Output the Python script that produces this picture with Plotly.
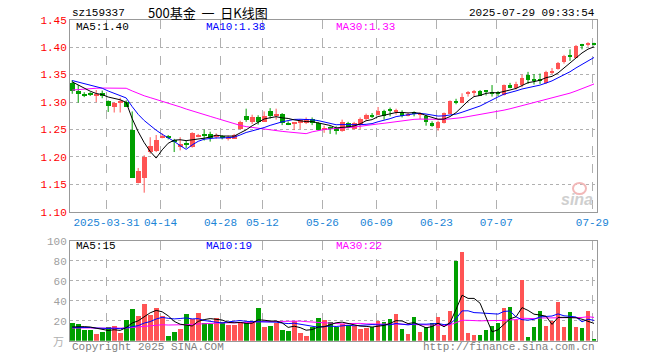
import plotly.graph_objects as go
import pandas as pd

# ---------------- data ----------------
dates = [
    "2025-03-21", "2025-03-24", "2025-03-25", "2025-03-26", "2025-03-27", "2025-03-28",
    "2025-03-31", "2025-04-01", "2025-04-02", "2025-04-03", "2025-04-07", "2025-04-08",
    "2025-04-09", "2025-04-10", "2025-04-11", "2025-04-14", "2025-04-15", "2025-04-16",
    "2025-04-17", "2025-04-18", "2025-04-21", "2025-04-22", "2025-04-23", "2025-04-24",
    "2025-04-25", "2025-04-28", "2025-04-29", "2025-04-30", "2025-05-06", "2025-05-07",
    "2025-05-08", "2025-05-09", "2025-05-12", "2025-05-13", "2025-05-14", "2025-05-15",
    "2025-05-16", "2025-05-19", "2025-05-20", "2025-05-21", "2025-05-22", "2025-05-23",
    "2025-05-26", "2025-05-27", "2025-05-28", "2025-05-29", "2025-05-30", "2025-06-03",
    "2025-06-04", "2025-06-05", "2025-06-06", "2025-06-09", "2025-06-10", "2025-06-11",
    "2025-06-12", "2025-06-13", "2025-06-16", "2025-06-17", "2025-06-18", "2025-06-19",
    "2025-06-20", "2025-06-23", "2025-06-24", "2025-06-25", "2025-06-26", "2025-06-27",
    "2025-06-30", "2025-07-01", "2025-07-02", "2025-07-03", "2025-07-04", "2025-07-07",
    "2025-07-08", "2025-07-09", "2025-07-10", "2025-07-11", "2025-07-14", "2025-07-15",
    "2025-07-16", "2025-07-17", "2025-07-18", "2025-07-21", "2025-07-22", "2025-07-23",
    "2025-07-24", "2025-07-25", "2025-07-28", "2025-07-29",
]

opens = [
    1.336, 1.320, 1.313, 1.315, 1.313, 1.317, 1.302, 1.292, 1.299, 1.300,
    1.250, 1.154, 1.163, 1.209, 1.211, 1.236, 1.239, 1.232, 1.219, 1.225,
    1.218, 1.238, 1.241, 1.242, 1.238, 1.238, 1.235, 1.234, 1.252, 1.275,
    1.264, 1.273, 1.265, 1.285, 1.276, 1.279, 1.261, 1.261, 1.263, 1.262,
    1.270, 1.262, 1.251, 1.253, 1.254, 1.247, 1.262, 1.252, 1.259, 1.270,
    1.276, 1.277, 1.284, 1.286, 1.284, 1.283, 1.275, 1.280, 1.278, 1.276,
    1.263, 1.254, 1.262, 1.279, 1.301, 1.299, 1.316, 1.318, 1.320, 1.320,
    1.318, 1.317, 1.313, 1.332, 1.327, 1.331, 1.350, 1.342, 1.342, 1.336,
    1.355, 1.361, 1.373, 1.385, 1.380, 1.405, 1.405, 1.407,
]
highs = [
    1.340, 1.331, 1.318, 1.318, 1.322, 1.321, 1.303, 1.300, 1.308, 1.303,
    1.283, 1.180, 1.203, 1.236, 1.240, 1.243, 1.240, 1.233, 1.236, 1.230,
    1.245, 1.242, 1.250, 1.246, 1.243, 1.240, 1.239, 1.242, 1.266, 1.288,
    1.277, 1.276, 1.283, 1.289, 1.288, 1.280, 1.265, 1.263, 1.269, 1.272,
    1.272, 1.264, 1.257, 1.256, 1.256, 1.268, 1.264, 1.264, 1.272, 1.279,
    1.280, 1.291, 1.286, 1.290, 1.288, 1.285, 1.281, 1.283, 1.281, 1.277,
    1.265, 1.266, 1.281, 1.303, 1.306, 1.316, 1.320, 1.322, 1.322, 1.321,
    1.331, 1.320, 1.332, 1.335, 1.337, 1.350, 1.355, 1.351, 1.352, 1.357,
    1.362, 1.373, 1.386, 1.396, 1.404, 1.406, 1.409, 1.408,
]
lows = [
    1.315, 1.299, 1.309, 1.311, 1.300, 1.307, 1.282, 1.281, 1.281, 1.291,
    1.162, 1.152, 1.135, 1.206, 1.209, 1.234, 1.232, 1.209, 1.212, 1.216,
    1.217, 1.236, 1.230, 1.228, 1.233, 1.232, 1.230, 1.233, 1.250, 1.264,
    1.260, 1.259, 1.264, 1.270, 1.268, 1.258, 1.258, 1.249, 1.251, 1.260,
    1.258, 1.248, 1.244, 1.242, 1.241, 1.246, 1.252, 1.250, 1.251, 1.266,
    1.271, 1.276, 1.268, 1.274, 1.277, 1.272, 1.274, 1.274, 1.269, 1.257,
    1.255, 1.248, 1.261, 1.279, 1.296, 1.298, 1.310, 1.310, 1.311, 1.312,
    1.310, 1.311, 1.312, 1.325, 1.323, 1.327, 1.333, 1.332, 1.333, 1.333,
    1.351, 1.359, 1.370, 1.375, 1.380, 1.396, 1.401, 1.403,
]
closes = [
    1.321, 1.316, 1.312, 1.314, 1.315, 1.311, 1.294, 1.299, 1.302, 1.291,
    1.163, 1.175, 1.200, 1.221, 1.231, 1.238, 1.235, 1.228, 1.225, 1.223,
    1.244, 1.240, 1.239, 1.236, 1.240, 1.236, 1.237, 1.241, 1.265, 1.268,
    1.273, 1.265, 1.275, 1.276, 1.278, 1.262, 1.260, 1.262, 1.268, 1.270,
    1.262, 1.250, 1.253, 1.252, 1.248, 1.265, 1.256, 1.262, 1.270, 1.277,
    1.275, 1.284, 1.276, 1.285, 1.285, 1.276, 1.279, 1.279, 1.279, 1.264,
    1.257, 1.265, 1.280, 1.302, 1.300, 1.310, 1.318, 1.320, 1.312, 1.319,
    1.317, 1.316, 1.331, 1.327, 1.333, 1.345, 1.341, 1.340, 1.340, 1.356,
    1.357, 1.372, 1.384, 1.384, 1.403, 1.404, 1.407, 1.405,
]
# volume (万)
volumes = [
    17.7, 16.7, 11.0, 11.0, 6.7, 8.7, 13.7, 14.7, 7.7, 20.7,
    31.7, 24.7, 36.7, 25.7, 32.7, 24.7, 4.7, 8.7, 11.7, 26.7,
    21.7, 27.7, 17.7, 16.7, 22.7, 18.7, 15.7, 15.7, 18.7, 17.7,
    19.7, 32.7, 13.7, 14.7, 17.7, 10.7, 9.7, 19.7, 7.7, 4.7,
    13.7, 22.7, 20.7, 18.7, 14.0, 16.7, 15.7, 14.7, 11.7, 12.7,
    13.7, 19.7, 18.7, 21.7, 26.7, 11.7, 6.7, 23.7, 8.7, 13.7,
    17.7, 23.7, 5.7, 29.7, 79.7, 88.7, 7.7, 5.7, 5.7, 10.7,
    14.7, 17.7, 32.7, 33.7, 20.7, 60.7, 3.7, 13.7, 29.7, 14.7,
    19.7, 38.7, 13.7, 28.7, 13.7, 12.7, 29.7, 1.7,
]
# sessions before the first visible bar (inferred from where the MA lines start)
prior_closes = [
    1.285, 1.290, 1.288, 1.295, 1.300, 1.298, 1.302, 1.300, 1.297,
    1.310, 1.318, 1.322, 1.320, 1.328, 1.332, 1.330, 1.336, 1.340, 1.338,
    1.335, 1.342, 1.338, 1.345, 1.340, 1.343, 1.345, 1.342, 1.340, 1.336,
]
prior_volumes = [
    12, 14, 11, 13, 12, 15, 11, 12, 13, 14, 12, 11, 13, 12, 14,
    13, 11, 12, 13, 12, 14, 11, 12, 13, 12, 14, 12, 13, 12,
]

tick_dates = ["2025-03-31", "2025-04-14", "2025-04-28", "2025-05-12", "2025-05-26",
              "2025-06-09", "2025-06-23", "2025-07-07", "2025-07-29"]
tick_labels = ["2025-03-31", "04-14", "04-28", "05-12", "05-26", "06-09", "06-23", "07-07", "07-29"]
price_ticks = [1.10, 1.15, 1.20, 1.25, 1.30, 1.35, 1.40, 1.45]
volume_ticks = [20, 40, 60, 80, 100]

header_code = "sz159337"
header_title = "500基金\u00a0\u00a0一\u00a0\u00a0日K线图"
header_time = "2025-07-29 09:33:54"
price_ma_text = ["MA5:1.40", "MA10:1.38", "MA30:1.33"]
volume_ma_text = ["MA5:15", "MA10:19", "MA30:22"]

# ---------------- derived ----------------
W, H = 660, 360
n = len(dates)
xs = list(range(n))
npri = len(prior_closes)

cs = pd.Series(prior_closes + closes)
vs = pd.Series(prior_volumes + volumes)
ma = {k: cs.rolling(k).mean().iloc[npri:].tolist() for k in (5, 10, 30)}
vma = {k: vs.rolling(k).mean().iloc[npri:].tolist() for k in (5, 10, 30)}

RED = "#ff5454"
GREEN = "#009f00"
up = [c >= o for o, c in zip(opens, closes)]
colors = [RED if u else GREEN for u in up]

def px_x(p):
    return p / W

def px_y(p):
    return 1 - p / H

X0, X1 = 70, 597.3
PY0, PY1 = 19.7, 211.9
VY0, VY1 = 240.7, 340.7

fig = go.Figure()

# wicks
for flag, col in ((True, RED), (False, GREEN)):
    wx, wy = [], []
    for i in xs:
        if up[i] == flag:
            wx += [i, i, None]
            wy += [lows[i], highs[i], None]
    fig.add_trace(go.Scatter(x=wx, y=wy, mode="lines", line=dict(color=col, width=1),
                             hoverinfo="skip", showlegend=False, xaxis="x", yaxis="y"))

# bodies
base = [min(o, c) for o, c in zip(opens, closes)]
height = [max(abs(c - o), 0.0019) for o, c in zip(opens, closes)]
fig.add_trace(go.Bar(x=xs, y=height, base=base, width=0.8, marker=dict(color=colors, line=dict(width=0)),
                     showlegend=False, xaxis="x", yaxis="y"))

ma_colors = {5: "#000000", 10: "#0000ff", 30: "#ff00ff"}
for k in (30, 10, 5):
    fig.add_trace(go.Scatter(x=xs, y=ma[k], mode="lines", line=dict(color=ma_colors[k], width=1),
                             showlegend=False, xaxis="x", yaxis="y"))

# volume
fig.add_trace(go.Bar(x=xs, y=volumes, width=0.8, marker=dict(color=colors, line=dict(width=0)),
                     showlegend=False, xaxis="x2", yaxis="y2"))
for k in (30, 10, 5):
    fig.add_trace(go.Scatter(x=xs, y=vma[k], mode="lines", line=dict(color=ma_colors[k], width=1),
                             showlegend=False, xaxis="x2", yaxis="y2"))

tick_idx = [dates.index(d) - 0.28 for d in tick_dates]
xrange = [-0.37, n - 1 + 0.55]
MONO = "Liberation Mono, DejaVu Sans Mono, monospace"
GRID = "#b0b0b0"
FRAME = "#999999"

axis_common = dict(showline=True, mirror=True, linecolor=FRAME, linewidth=1, zeroline=False, ticks="",
                   fixedrange=True, automargin=False)

fig.update_layout(
    width=W, height=H, margin=dict(l=0, r=0, t=0, b=0, autoexpand=False),
    paper_bgcolor="white", plot_bgcolor="white", bargap=0, showlegend=False,
    xaxis=dict(domain=[px_x(X0), px_x(X1)], range=xrange, tickvals=tick_idx, ticktext=tick_labels,
               showgrid=True, gridcolor=GRID, griddash="dash", gridwidth=1,
               tickfont=dict(family=MONO, size=11, color="#1a84d6"), anchor="y", **axis_common),
    yaxis=dict(domain=[px_y(PY1), px_y(PY0)], range=[1.10, 1.45], tickvals=price_ticks,
               ticktext=[f"{v:.2f}" for v in price_ticks], showgrid=True, gridcolor=GRID,
               griddash="dot", gridwidth=1, tickfont=dict(family=MONO, size=11, color="#ff0000"),
               anchor="x", **axis_common),
    xaxis2=dict(domain=[px_x(X0), px_x(X1)], range=xrange, tickvals=tick_idx, showticklabels=False,
                showgrid=True, gridcolor=GRID, griddash="dash", gridwidth=1, anchor="y2", **axis_common),
    yaxis2=dict(domain=[px_y(VY1), px_y(VY0)], range=[0, 100], tickvals=volume_ticks,
                showgrid=True, gridcolor=GRID, griddash="dot", gridwidth=1,
                tickfont=dict(family=MONO, size=11, color="#a0a0a0"), anchor="x2", **axis_common),
)

def ann(text, x, y, color="#000000", size=10, xanchor="left", family=MONO, **kw):
    fig.add_annotation(text=text, x=px_x(x), y=px_y(y), xref="paper", yref="paper",
                       xanchor=xanchor, yanchor="middle", showarrow=False,
                       font=dict(family=family, size=size, color=color), **kw)

ann(header_code, 70, 13, size=11)
ann(header_title, 146, 13, size=13, family="Noto Sans CJK SC")
ann(header_time, 597, 13, size=11, xanchor="right")

ann(price_ma_text[0], 74, 27, color="#000000", size=11)
ann(price_ma_text[1], 204, 27, color="#0000ff", size=11)
ann(price_ma_text[2], 334, 27, color="#ff00ff", size=11)

ann(volume_ma_text[0], 74, 246, color="#000000", size=11)
ann(volume_ma_text[1], 204, 246, color="#0000ff", size=11)
ann(volume_ma_text[2], 334, 246, color="#ff00ff", size=11)

ann("万", 66, 341, color="#b0b0b0", size=11, xanchor="right", family="Noto Sans CJK SC")
ann("Copyright 2025 SINA.COM", 70, 347, color="#808080", size=11)
ann("http://finance.sina.com.cn", 597, 347, color="#808080", size=11, xanchor="right")

# sina watermark (logo eye drawn as a shape, word as text)
ann("<b><i>sina</i></b>", 595, 199, color="#cfcfcf", size=16, xanchor="right", family="Arial, Liberation Sans")
fig.add_shape(type="circle", xref="paper", yref="paper",
              x0=px_x(573), x1=px_x(586), y0=px_y(194), y1=px_y(183),
              line=dict(color="#f2b8b8", width=2), fillcolor="rgba(0,0,0,0)")

fig.write_html("out.html", config={"displayModeBar": False},
               post_script="document.body.style.margin='0';document.body.style.overflow='hidden';")
